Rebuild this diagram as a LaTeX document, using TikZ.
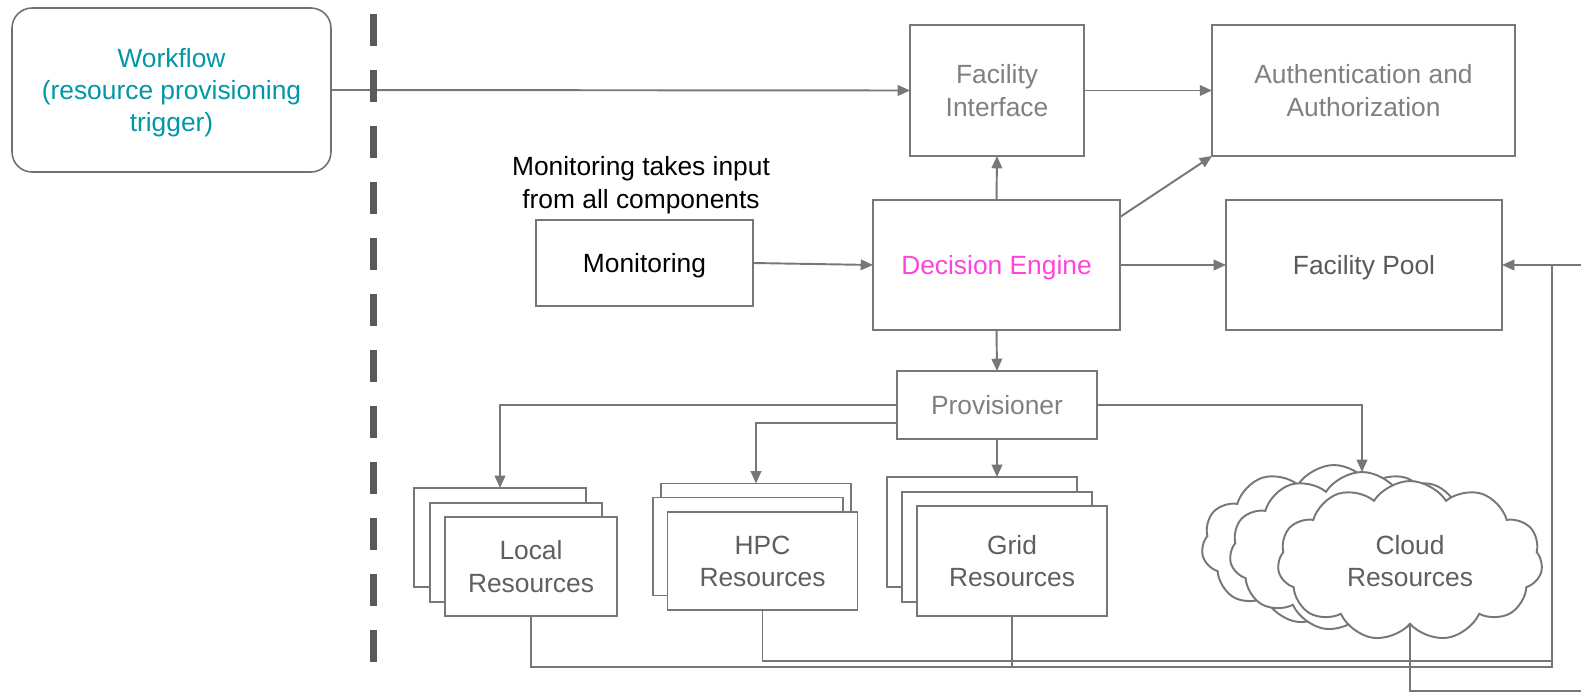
\documentclass[tikz,border=0pt]{standalone}
\usepackage{fontspec}
\setmainfont{Liberation Sans}
\usetikzlibrary{arrows.meta,shapes.symbols,calc}

\definecolor{edge}{HTML}{777777}
\definecolor{ink}{HTML}{5F5F5F}
\definecolor{softink}{HTML}{808080}
\definecolor{wfteal}{HTML}{0097A7}
\definecolor{demag}{HTML}{FF44DD}
\definecolor{divider}{HTML}{5A5A5A}
\definecolor{wfedge}{HTML}{707070}

\begin{document}
\begin{tikzpicture}[
  x=0.02cm, y=-0.02cm,
  lbl/.style={font=\fontsize{15}{18.4}\selectfont, align=center},
  box/.style={lbl, draw=edge, line width=1.1pt, fill=white,
    inner sep=0pt, outer sep=0pt, text=ink, text depth=0pt},
  localbox/.style={box, minimum width=3.44cm, minimum height=1.98cm},
  hpcbox/.style={box, minimum width=3.8cm, minimum height=1.96cm},
  gridbox/.style={box, minimum width=3.8cm, minimum height=2.2cm},
  cloudbox/.style={box, cloud, cloud puffs=11, cloud puff arc=115,
    cloud ignores aspect, minimum width=5.3cm, minimum height=3.2cm},
  link/.style={draw=edge, line width=1.1pt},
  arr/.style={link, -{Triangle[length=7pt,width=6pt]}}
]
\useasboundingbox (0,0) rectangle (1581,693);
\fill[white] (0,0) rectangle (1581,693);
\clip (0,0) rectangle (1581,693);

% trigger on the user side
\node[lbl, draw=wfedge, line width=0.9pt, rounded corners=0.4cm,
  minimum width=6.38cm, minimum height=3.28cm, inner sep=0pt,
  text depth=0pt, text=wfteal] (wf) at (171.5,90)
  {Workflow\\(resource provisioning\\trigger)};

% facility side
\node[box, text=softink, minimum width=3.48cm, minimum height=2.62cm]
  (fi) at (997,90.5) {Facility\\Interface};
\node[box, text=softink, minimum width=6.06cm, minimum height=2.62cm]
  (auth) at (1363.5,90.5) {Authentication and\\Authorization};
\node[box, text=demag, minimum width=4.94cm, minimum height=2.6cm]
  (de) at (996.5,265) {Decision Engine};
\node[box, text=divider, minimum width=5.52cm, minimum height=2.6cm]
  (fp) at (1364,265) {Facility Pool};
\node[box, text=black, minimum width=4.34cm, minimum height=1.72cm]
  (mon) at (644.5,263) {Monitoring};
\node[lbl, font=\fontsize{15}{18.8}\selectfont, text=black, inner sep=0pt,
  text depth=0pt] (monnote) at (641,182)
  {Monitoring takes input\\from all components};
\node[box, text=softink, minimum width=4.0cm, minimum height=1.36cm]
  (prov) at (997,405) {Provisioner};

% resource stacks
\node[localbox] (lback) at (500,537.5) {};
\node[localbox] (lmid) at (516,552.5) {};
\node[localbox] (lfront) at (531,566.5) {Local\\Resources};

\node[hpcbox] (hback) at (756,532.5) {};
\node[hpcbox] (hmid) at (748,546.5) {};
\node[hpcbox] (hfront) at (762.5,561) {HPC\\Resources};

\node[gridbox] (gback) at (982,532) {};
\node[gridbox] (gmid) at (997,547) {};
\node[gridbox] (gfront) at (1012,561) {Grid\\Resources};

\node[cloudbox] (cback) at (1334,545) {};
\node[cloudbox] (cmid) at (1362,552) {};
\node[cloudbox] (cfront) at (1410,561) {Cloud\\Resources};

% request path
\draw[arr] (wf.east) -- (fi.west);
\draw[arr] (fi.east) -- (auth.west);
\draw[arr] (de.north) -- (fi.south);
\draw[arr] ($(de.north east)+(0,17)$) -- (auth.south west);
\draw[arr] (de.east) -- (fp.west);
\draw[arr] (mon.east) -- (de.west);
\draw[arr] (de.south) -- (prov.north);

% provisioning fan-out
\draw[arr] (prov.west) -| (lback.north);
\draw[arr] ($(prov.west)+(0,18)$) -| (hback.north);
\draw[arr] (prov.south) -- (prov.south |- gback.north);
\draw[arr] (prov.east) -| (cmid.north);

% resources reporting back into the facility pool
\coordinate (railtop) at (1552,265);
\coordinate (railbot) at (1552,667);
\coordinate (railmid) at (1552,661);
\coordinate (offpage) at (1620,691);
\draw[link] (lfront.south) |- (railbot) -- (railtop);
\draw[link] (gfront.south) -- (gfront.south |- railbot);
\draw[link] (hfront.south) |- (railmid);
\draw[arr] (cfront.south) |- (offpage) |- (fp.east);

% boundary between user and facility
\draw[divider, line width=0.14cm, dash pattern=on 0.64cm off 0.48cm]
  (373,14) -- (373,662);
\end{tikzpicture}
\end{document}
